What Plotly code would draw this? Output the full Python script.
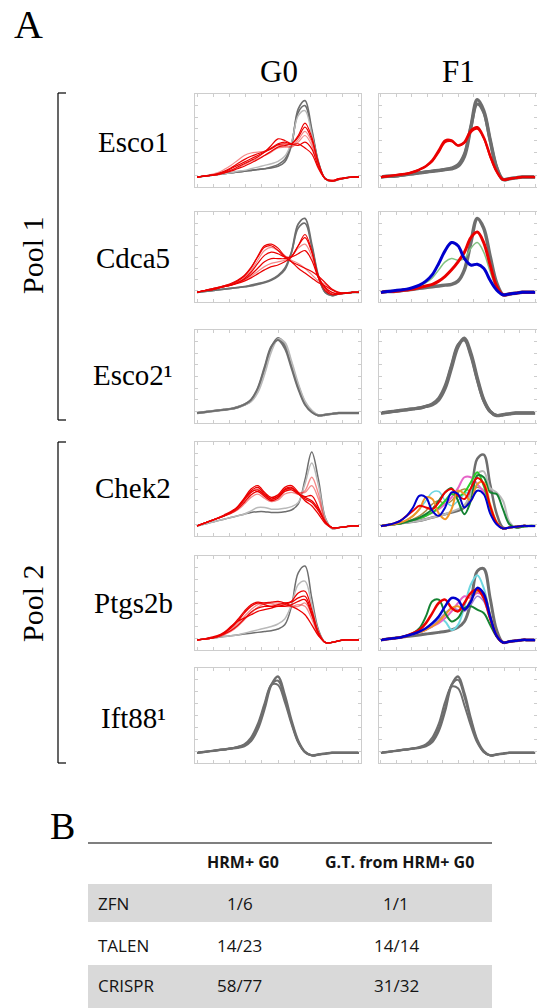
import plotly.graph_objects as go

W, H = 537, 1008
X = list(range(25))

# ---------------- labels ----------------
columns = ["G0", "F1"]
genes = ["Esco1", "Cdca5", "Esco2¹", "Chek2", "Ptgs2b", "Ift88¹"]
pools = ["Pool 1", "Pool 2"]
methods = ["ZFN", "TALEN", "CRISPR"]
hrm_pos_g0 = ["1/6", "14/23", "58/77"]
gt_from_hrm = ["1/1", "14/14", "31/32"]
table_header = ["HRM+ G0", "G.T. from HRM+ G0"]

# ---------------- melt curves (normalised -dF/dT) ----------------
esco1_g0_wt_a = [0,0.01,0.02,0.03,0.04,0.05,0.06,0.07,0.08,0.09,0.10,0.11,0.13,0.18,0.38,0.82,0.92,0.58,0.18,-0.02,-0.05,-0.03,-0.01,0,0]
esco1_g0_wt_b = [0,0.01,0.02,0.03,0.04,0.05,0.06,0.07,0.08,0.09,0.10,0.12,0.15,0.21,0.40,0.78,0.86,0.55,0.17,-0.02,-0.05,-0.03,-0.01,0,0]
esco1_g0_wt_c = [0,0.01,0.02,0.03,0.04,0.05,0.07,0.08,0.10,0.12,0.14,0.16,0.19,0.25,0.42,0.74,0.80,0.52,0.16,-0.02,-0.05,-0.03,-0.01,0,0]
esco1_g0_mut_a = [0,0.01,0.02,0.04,0.07,0.11,0.16,0.21,0.25,0.28,0.31,0.35,0.40,0.42,0.40,0.48,0.60,0.45,0.16,-0.02,-0.05,-0.03,-0.01,0,0]
esco1_g0_mut_b = [0,0.01,0.03,0.05,0.09,0.14,0.20,0.26,0.29,0.30,0.31,0.34,0.38,0.37,0.36,0.42,0.50,0.38,0.13,-0.02,-0.05,-0.03,-0.01,0,0]
esco1_g0_mut_c = [0,0.01,0.02,0.03,0.05,0.08,0.12,0.16,0.20,0.24,0.30,0.38,0.46,0.44,0.40,0.38,0.42,0.34,0.12,-0.02,-0.04,-0.02,-0.01,0,0]
esco1_g0_mut_d = [0,0.01,0.02,0.03,0.05,0.08,0.11,0.15,0.19,0.22,0.26,0.30,0.35,0.36,0.37,0.45,0.55,0.42,0.15,-0.02,-0.05,-0.03,-0.01,0,0]
esco1_g0_mut_e = [0,0.01,0.02,0.04,0.06,0.10,0.14,0.18,0.22,0.26,0.30,0.34,0.39,0.40,0.39,0.40,0.35,0.28,0.10,-0.02,-0.04,-0.02,-0.01,0,0]
esco1_g0_mut_f = [0,0.01,0.02,0.03,0.05,0.07,0.10,0.13,0.17,0.21,0.26,0.31,0.36,0.38,0.40,0.50,0.65,0.48,0.17,-0.02,-0.05,-0.03,-0.01,0,0]

esco1_f1_wt_a = [0,0.01,0.01,0.02,0.03,0.04,0.05,0.06,0.07,0.08,0.09,0.10,0.13,0.25,0.60,0.93,0.80,0.45,0.12,-0.03,-0.02,-0.01,0,0,0]
esco1_f1_wt_b = [0,0.01,0.01,0.02,0.03,0.04,0.05,0.06,0.07,0.08,0.09,0.11,0.15,0.28,0.60,0.88,0.78,0.44,0.12,-0.03,-0.02,-0.01,0,0,0]
esco1_f1_het_a = [0,0.01,0.02,0.03,0.04,0.06,0.09,0.13,0.20,0.32,0.44,0.44,0.38,0.42,0.56,0.60,0.48,0.26,0.07,-0.03,-0.02,-0.01,0,0,0]
esco1_f1_het_b = [0,0.01,0.02,0.03,0.04,0.06,0.09,0.13,0.19,0.30,0.42,0.43,0.38,0.41,0.54,0.58,0.47,0.25,0.07,-0.03,-0.02,-0.01,0,0,0]

cdca5_g0_wt_a = [0,0.01,0.02,0.03,0.04,0.05,0.06,0.07,0.08,0.10,0.12,0.15,0.20,0.28,0.50,0.85,0.92,0.60,0.20,0.0,-0.04,-0.02,-0.01,0,0]
cdca5_g0_wt_b = [0,0.01,0.02,0.03,0.04,0.05,0.06,0.07,0.09,0.11,0.13,0.16,0.21,0.30,0.50,0.80,0.86,0.57,0.19,0.0,-0.04,-0.02,-0.01,0,0]
cdca5_g0_mut_a = [0,0.02,0.04,0.06,0.08,0.10,0.14,0.20,0.30,0.45,0.58,0.60,0.55,0.45,0.38,0.30,0.24,0.18,0.12,0.08,0.03,-0.01,-0.01,0,0]
cdca5_g0_mut_b = [0,0.02,0.04,0.06,0.08,0.10,0.13,0.18,0.27,0.40,0.52,0.56,0.52,0.46,0.40,0.36,0.30,0.22,0.14,0.10,0.04,0,-0.01,0,0]
cdca5_g0_mut_c = [0,0.02,0.03,0.05,0.07,0.09,0.12,0.16,0.22,0.30,0.38,0.42,0.42,0.42,0.45,0.58,0.68,0.50,0.20,0.05,-0.02,-0.02,-0.01,0,0]
cdca5_g0_mut_d = [0,0.02,0.03,0.05,0.07,0.09,0.12,0.15,0.20,0.26,0.32,0.36,0.38,0.40,0.45,0.55,0.60,0.45,0.18,0.04,-0.02,-0.02,-0.01,0,0]
cdca5_g0_mut_e = [0,0.02,0.03,0.05,0.07,0.09,0.12,0.17,0.25,0.36,0.46,0.50,0.48,0.44,0.44,0.48,0.52,0.40,0.18,0.06,0,-0.02,-0.01,0,0]
cdca5_g0_mut_f = [0,0.02,0.03,0.05,0.07,0.09,0.11,0.14,0.18,0.23,0.28,0.32,0.34,0.38,0.44,0.58,0.72,0.52,0.18,0.02,-0.03,-0.02,-0.01,0,0]
cdca5_g0_mut_g = [0,0.02,0.04,0.06,0.08,0.11,0.15,0.21,0.31,0.44,0.56,0.58,0.52,0.44,0.38,0.34,0.30,0.26,0.20,0.12,0.04,0,-0.01,0,0]

cdca5_f1_wt = [0,0.01,0.01,0.02,0.03,0.04,0.05,0.06,0.07,0.08,0.09,0.10,0.14,0.28,0.62,0.92,0.80,0.45,0.12,-0.03,-0.02,-0.01,0,0,0]
cdca5_f1_red = [0,0.01,0.01,0.02,0.03,0.04,0.06,0.08,0.10,0.14,0.20,0.28,0.38,0.50,0.68,0.75,0.62,0.34,0.08,-0.03,-0.02,-0.01,0,0,0]
cdca5_f1_blue = [0,0.01,0.02,0.03,0.04,0.06,0.09,0.14,0.22,0.36,0.52,0.62,0.58,0.42,0.34,0.35,0.30,0.15,0.03,-0.03,-0.02,-0.01,0,0,0]
cdca5_f1_green = [0,0.01,0.02,0.03,0.04,0.06,0.08,0.12,0.18,0.28,0.38,0.42,0.40,0.42,0.55,0.62,0.50,0.26,0.06,-0.03,-0.02,-0.01,0,0,0]

esco2_g0_a = [0,0.01,0.02,0.03,0.04,0.05,0.07,0.10,0.15,0.28,0.52,0.78,0.90,0.82,0.58,0.32,0.12,0.02,-0.03,-0.02,-0.01,0,0,0,0]
esco2_g0_b = [0,0.01,0.02,0.03,0.04,0.05,0.07,0.10,0.14,0.25,0.47,0.74,0.89,0.85,0.62,0.35,0.14,0.03,-0.03,-0.02,-0.01,0,0,0,0]
esco2_g0_c = [0,0.01,0.02,0.03,0.04,0.05,0.07,0.10,0.16,0.30,0.55,0.80,0.88,0.78,0.54,0.29,0.10,0.01,-0.03,-0.02,-0.01,0,0,0,0]
esco2_f1_a = [0,0.01,0.02,0.03,0.04,0.05,0.06,0.08,0.10,0.16,0.30,0.55,0.80,0.90,0.72,0.42,0.16,0.02,-0.03,-0.02,-0.01,0,0,0,0]
esco2_f1_b = [0,0.01,0.02,0.03,0.04,0.05,0.06,0.08,0.11,0.18,0.33,0.58,0.82,0.88,0.69,0.40,0.15,0.02,-0.03,-0.02,-0.01,0,0,0,0]

chek2_g0_wt_a = [0,0.02,0.04,0.06,0.08,0.10,0.12,0.14,0.16,0.17,0.17,0.16,0.16,0.17,0.19,0.26,0.55,0.88,0.55,0.10,-0.03,-0.02,-0.01,0,0]
chek2_g0_wt_b = [0,0.02,0.04,0.06,0.08,0.10,0.12,0.14,0.18,0.22,0.22,0.20,0.20,0.21,0.23,0.28,0.50,0.75,0.48,0.09,-0.03,-0.02,-0.01,0,0]
chek2_g0_mut_a = [0,0.03,0.06,0.09,0.12,0.16,0.22,0.32,0.42,0.46,0.38,0.32,0.35,0.44,0.46,0.38,0.32,0.28,0.18,0.05,-0.02,-0.02,-0.01,0,0]
chek2_g0_mut_b = [0,0.03,0.06,0.09,0.12,0.16,0.21,0.30,0.40,0.44,0.36,0.31,0.34,0.42,0.44,0.40,0.40,0.48,0.32,0.06,-0.02,-0.02,-0.01,0,0]
chek2_g0_mut_c = [0,0.03,0.06,0.09,0.13,0.17,0.23,0.33,0.44,0.48,0.40,0.34,0.37,0.46,0.48,0.40,0.30,0.24,0.14,0.03,-0.02,-0.02,-0.01,0,0]
chek2_g0_mut_d = [0,0.03,0.06,0.09,0.12,0.15,0.20,0.28,0.37,0.41,0.35,0.30,0.33,0.41,0.43,0.38,0.35,0.36,0.22,0.05,-0.02,-0.02,-0.01,0,0]
chek2_g0_mut_e = [0,0.03,0.06,0.09,0.12,0.15,0.19,0.26,0.34,0.38,0.33,0.29,0.31,0.38,0.40,0.38,0.42,0.58,0.38,0.07,-0.03,-0.02,-0.01,0,0]
chek2_g0_mut_f = [0,0.03,0.06,0.09,0.12,0.16,0.22,0.31,0.40,0.43,0.37,0.32,0.35,0.43,0.45,0.39,0.34,0.30,0.20,0.05,-0.02,-0.02,-0.01,0,0]

chek2_f1_grey_a = [0,0.01,0.02,0.03,0.04,0.05,0.06,0.08,0.10,0.12,0.14,0.16,0.18,0.22,0.40,0.80,0.85,0.50,0.15,-0.02,-0.02,-0.01,0,0,0]
chek2_f1_grey_b = [0,0.01,0.02,0.03,0.04,0.05,0.06,0.08,0.10,0.12,0.14,0.17,0.20,0.25,0.38,0.62,0.65,0.45,0.40,0.30,0.05,-0.02,-0.01,0,0]
chek2_f1_blue = [0,0.01,0.03,0.06,0.12,0.22,0.36,0.34,0.18,0.12,0.22,0.40,0.38,0.22,0.30,0.42,0.38,0.15,0.02,-0.03,-0.02,-0.01,0,0,0]
chek2_f1_orange = [0,0.01,0.02,0.04,0.07,0.12,0.20,0.34,0.32,0.15,0.08,0.20,0.42,0.38,0.30,0.50,0.52,0.26,0.05,-0.03,-0.02,-0.01,0,0,0]
chek2_f1_red = [0,0.01,0.03,0.06,0.12,0.18,0.24,0.22,0.20,0.28,0.40,0.44,0.36,0.32,0.45,0.57,0.50,0.24,0.04,-0.03,-0.02,-0.01,0,0,0]
chek2_f1_green = [0,0.01,0.02,0.03,0.05,0.07,0.10,0.14,0.20,0.30,0.40,0.45,0.30,0.14,0.30,0.60,0.58,0.40,0.38,0.20,0.02,-0.02,-0.01,0,0]
chek2_f1_lime = [0,0.01,0.02,0.03,0.05,0.07,0.09,0.12,0.16,0.22,0.30,0.38,0.35,0.40,0.52,0.64,0.48,0.22,0.04,-0.03,-0.02,-0.01,0,0,0]
chek2_f1_pink = [0,0.01,0.02,0.03,0.05,0.07,0.09,0.12,0.16,0.20,0.26,0.34,0.45,0.58,0.58,0.50,0.40,0.20,0.04,-0.03,-0.02,-0.01,0,0,0]
chek2_f1_cyan = [0,0.01,0.02,0.04,0.07,0.12,0.20,0.30,0.40,0.41,0.30,0.24,0.30,0.38,0.42,0.48,0.40,0.20,0.04,-0.03,-0.02,-0.01,0,0,0]
chek2_f1_olive = [0,0.01,0.02,0.03,0.05,0.08,0.12,0.18,0.26,0.30,0.26,0.30,0.40,0.44,0.42,0.46,0.42,0.22,0.04,-0.03,-0.02,-0.01,0,0,0]

ptgs2b_g0_wt_a = [0,0.01,0.02,0.03,0.04,0.05,0.06,0.07,0.08,0.09,0.10,0.11,0.13,0.18,0.40,0.80,0.88,0.50,0.12,-0.03,-0.03,-0.01,0,0,0]
ptgs2b_g0_wt_b = [0,0.01,0.02,0.03,0.04,0.05,0.06,0.08,0.10,0.12,0.14,0.16,0.19,0.25,0.42,0.66,0.70,0.42,0.10,-0.03,-0.03,-0.01,0,0,0]
ptgs2b_g0_mut_a = [0,0.01,0.02,0.04,0.08,0.14,0.22,0.32,0.40,0.44,0.42,0.40,0.42,0.44,0.45,0.50,0.52,0.32,0.08,-0.03,-0.03,-0.01,0,0,0]
ptgs2b_g0_mut_b = [0,0.01,0.02,0.04,0.07,0.12,0.19,0.28,0.36,0.42,0.44,0.43,0.41,0.40,0.40,0.42,0.40,0.25,0.06,-0.03,-0.03,-0.01,0,0,0]
ptgs2b_g0_mut_c = [0,0.01,0.03,0.05,0.09,0.15,0.24,0.34,0.42,0.45,0.44,0.45,0.46,0.44,0.40,0.36,0.30,0.18,0.05,-0.03,-0.03,-0.01,0,0,0]
ptgs2b_g0_mut_d = [0,0.01,0.02,0.04,0.07,0.11,0.17,0.25,0.33,0.38,0.40,0.40,0.40,0.42,0.46,0.56,0.58,0.36,0.09,-0.03,-0.03,-0.01,0,0,0]
ptgs2b_g0_mut_e = [0,0.01,0.02,0.03,0.06,0.10,0.16,0.24,0.32,0.39,0.43,0.44,0.44,0.42,0.40,0.40,0.44,0.30,0.08,-0.03,-0.03,-0.01,0,0,0]
ptgs2b_g0_mut_f = [0,0.01,0.02,0.04,0.08,0.16,0.22,0.26,0.30,0.34,0.36,0.38,0.40,0.40,0.42,0.46,0.48,0.30,0.07,-0.03,-0.03,-0.01,0,0,0]

ptgs2b_f1_grey = [0,0.01,0.02,0.03,0.04,0.05,0.06,0.07,0.08,0.09,0.10,0.12,0.15,0.22,0.45,0.82,0.85,0.50,0.12,-0.03,-0.02,-0.01,0,0,0]
ptgs2b_f1_green = [0,0.01,0.02,0.03,0.05,0.08,0.14,0.28,0.46,0.48,0.32,0.22,0.26,0.38,0.40,0.36,0.32,0.18,0.04,-0.03,-0.02,-0.01,0,0,0]
ptgs2b_f1_red = [0,0.01,0.02,0.03,0.05,0.08,0.12,0.20,0.32,0.44,0.48,0.38,0.34,0.44,0.56,0.60,0.50,0.26,0.05,-0.03,-0.02,-0.01,0,0,0]
ptgs2b_f1_blue = [0,0.01,0.02,0.03,0.05,0.07,0.10,0.14,0.20,0.28,0.40,0.50,0.48,0.36,0.46,0.62,0.55,0.28,0.05,-0.03,-0.02,-0.01,0,0,0]
ptgs2b_f1_pink = [0,0.01,0.02,0.03,0.05,0.07,0.09,0.12,0.16,0.20,0.26,0.34,0.44,0.52,0.50,0.56,0.52,0.28,0.05,-0.03,-0.02,-0.01,0,0,0]
ptgs2b_f1_cyan = [0,0.01,0.02,0.03,0.05,0.07,0.09,0.12,0.18,0.26,0.22,0.12,0.18,0.40,0.66,0.77,0.62,0.30,0.05,-0.03,-0.02,-0.01,0,0,0]
ptgs2b_f1_orange = [0,0.01,0.02,0.03,0.05,0.07,0.09,0.12,0.16,0.22,0.30,0.38,0.40,0.36,0.48,0.58,0.56,0.30,0.06,-0.03,-0.02,-0.01,0,0,0]
ptgs2b_f1_purple = [0,0.01,0.02,0.03,0.05,0.07,0.09,0.12,0.17,0.24,0.32,0.38,0.36,0.34,0.42,0.52,0.46,0.24,0.05,-0.03,-0.02,-0.01,0,0,0]

ift88_g0_a = [0,0.01,0.02,0.03,0.04,0.05,0.06,0.08,0.14,0.28,0.52,0.80,0.90,0.68,0.38,0.14,0.01,-0.03,-0.02,-0.01,0,0,0,0,0]
ift88_g0_b = [0,0.01,0.02,0.03,0.04,0.05,0.07,0.10,0.18,0.34,0.58,0.80,0.80,0.60,0.34,0.12,0.01,-0.03,-0.02,-0.01,0,0,0,0,0]
ift88_g0_c = [0,0.01,0.02,0.03,0.04,0.05,0.07,0.09,0.16,0.31,0.55,0.80,0.85,0.64,0.36,0.13,0.01,-0.03,-0.02,-0.01,0,0,0,0,0]
ift88_f1_a = [0,0.01,0.02,0.03,0.04,0.05,0.06,0.08,0.13,0.26,0.50,0.80,0.90,0.70,0.40,0.15,0.02,-0.03,-0.02,-0.01,0,0,0,0,0]
ift88_f1_b = [0,0.01,0.02,0.03,0.04,0.05,0.07,0.10,0.18,0.34,0.60,0.78,0.76,0.56,0.32,0.12,0.01,-0.03,-0.02,-0.01,0,0,0,0,0]
ift88_f1_c = [0,0.01,0.02,0.03,0.04,0.05,0.06,0.09,0.15,0.29,0.53,0.80,0.86,0.66,0.38,0.14,0.01,-0.03,-0.02,-0.01,0,0,0,0,0]

# ---------------- colours ----------------
GREY = "rgb(110,110,110)"
LGREY = "rgb(185,185,185)"
RED = "rgb(235,0,0)"
LRED = "rgba(235,40,40,0.55)"
BLUE = "rgb(0,0,205)"
GREEN = "rgb(20,130,50)"
LGREEN = "rgb(130,195,130)"
LIME = "rgb(40,205,40)"
PINK = "rgb(230,100,200)"
CYAN = "rgb(110,215,225)"
ORANGE = "rgb(240,150,40)"
OLIVE = "rgb(170,140,70)"
PURPLE = "rgb(160,130,210)"

panels = [
    # row 1
    [(esco1_g0_wt_a, GREY, 1.6), (esco1_g0_wt_b, GREY, 1.6), (esco1_g0_wt_c, LGREY, 1.4),
     (esco1_g0_mut_a, RED, 1.2), (esco1_g0_mut_b, LRED, 1.2), (esco1_g0_mut_c, RED, 1.2),
     (esco1_g0_mut_d, LRED, 1.2), (esco1_g0_mut_e, RED, 1.2), (esco1_g0_mut_f, RED, 1.2)],
    [(esco1_f1_wt_a, GREY, 3.5), (esco1_f1_wt_b, GREY, 3.0),
     (esco1_f1_het_a, RED, 2.5), (esco1_f1_het_b, RED, 2.0)],
    # row 2
    [(cdca5_g0_wt_a, GREY, 1.8), (cdca5_g0_wt_b, GREY, 1.6),
     (cdca5_g0_mut_a, RED, 1.2), (cdca5_g0_mut_b, LRED, 1.2), (cdca5_g0_mut_c, RED, 1.2),
     (cdca5_g0_mut_d, LRED, 1.2), (cdca5_g0_mut_e, RED, 1.2), (cdca5_g0_mut_f, RED, 1.2),
     (cdca5_g0_mut_g, RED, 1.2)],
    [(cdca5_f1_wt, GREY, 3.5), (cdca5_f1_green, LGREEN, 1.5), (cdca5_f1_red, RED, 3.0),
     (cdca5_f1_blue, BLUE, 3.0)],
    # row 3
    [(esco2_g0_a, GREY, 2.5), (esco2_g0_b, LGREY, 2.0), (esco2_g0_c, GREY, 2.0)],
    [(esco2_f1_a, GREY, 3.5), (esco2_f1_b, GREY, 3.0)],
    # row 4
    [(chek2_g0_wt_a, GREY, 1.5), (chek2_g0_wt_b, LGREY, 1.5),
     (chek2_g0_mut_a, RED, 1.3), (chek2_g0_mut_b, LRED, 1.3), (chek2_g0_mut_c, RED, 1.3),
     (chek2_g0_mut_d, RED, 1.3), (chek2_g0_mut_e, LRED, 1.3), (chek2_g0_mut_f, RED, 1.3)],
    [(chek2_f1_grey_a, GREY, 2.5), (chek2_f1_grey_b, LGREY, 2.0), (chek2_f1_olive, OLIVE, 1.5),
     (chek2_f1_cyan, CYAN, 1.5), (chek2_f1_pink, PINK, 2.0), (chek2_f1_lime, LIME, 2.0),
     (chek2_f1_green, GREEN, 2.0), (chek2_f1_orange, ORANGE, 2.0), (chek2_f1_red, RED, 2.0),
     (chek2_f1_blue, BLUE, 2.0)],
    # row 5
    [(ptgs2b_g0_wt_a, GREY, 1.5), (ptgs2b_g0_wt_b, LGREY, 1.5),
     (ptgs2b_g0_mut_a, RED, 1.3), (ptgs2b_g0_mut_b, LRED, 1.3), (ptgs2b_g0_mut_c, RED, 1.3),
     (ptgs2b_g0_mut_d, RED, 1.3), (ptgs2b_g0_mut_e, LRED, 1.3), (ptgs2b_g0_mut_f, RED, 1.3)],
    [(ptgs2b_f1_grey, GREY, 3.0), (ptgs2b_f1_cyan, CYAN, 2.0), (ptgs2b_f1_purple, PURPLE, 1.5),
     (ptgs2b_f1_pink, PINK, 2.0), (ptgs2b_f1_orange, ORANGE, 2.0), (ptgs2b_f1_green, GREEN, 2.0),
     (ptgs2b_f1_red, RED, 2.5), (ptgs2b_f1_blue, BLUE, 2.5)],
    # row 6
    [(ift88_g0_a, GREY, 2.5), (ift88_g0_b, GREY, 2.0), (ift88_g0_c, GREY, 2.0)],
    [(ift88_f1_a, GREY, 2.5), (ift88_f1_b, GREY, 2.0), (ift88_f1_c, GREY, 2.0)],
]

# ---------------- layout geometry (pixels) ----------------
col_px = [(195, 361), (379, 537)]
row_px = [(94, 187), (212, 302), (330, 423), (442, 536), (556, 650), (668, 763)]


def fx(x):
    return x / W


def fy(y):
    return 1 - y / H


fig = go.Figure()
layout = dict(width=W, height=H, margin=dict(l=0, r=0, t=0, b=0),
              paper_bgcolor="white", plot_bgcolor="white", showlegend=False)

k = 0
for r in range(6):
    for c in range(2):
        k += 1
        xa = "x" if k == 1 else f"x{k}"
        ya = "y" if k == 1 else f"y{k}"
        for vals, col, wd in panels[k - 1]:
            fig.add_trace(go.Scatter(x=X, y=vals, mode="lines", xaxis=xa, yaxis=ya,
                                     line=dict(color=col, width=wd, shape="spline", smoothing=1.0),
                                     hoverinfo="skip"))
        ax_common = dict(showgrid=False, zeroline=False, showticklabels=False,
                         showline=True, linecolor="rgb(205,205,205)", linewidth=1,
                         mirror="ticks", ticks="inside", ticklen=3,
                         tickcolor="rgb(205,205,205)", fixedrange=True)
        x0, x1 = col_px[c]
        t, b = row_px[r]
        layout["xaxis" if k == 1 else f"xaxis{k}"] = dict(
            domain=[fx(x0), fx(x1)], range=[-0.3, 24.3], dtick=2.4, tick0=0,
            anchor=ya, **ax_common)
        layout["yaxis" if k == 1 else f"yaxis{k}"] = dict(
            domain=[fy(b), fy(t)], range=[-0.12, 1.0], dtick=0.14, tick0=-0.12,
            anchor=xa, **ax_common)

fig.update_layout(**layout)

SERIF = "Liberation Serif, Times New Roman, serif"
SANS = "Open Sans, Liberation Sans, sans-serif"
ann = []


def text(x, y, s, size, font=SERIF, angle=0, xanchor="center", bold=False, color="black"):
    ann.append(dict(x=fx(x), y=fy(y), xref="paper", yref="paper", text=(f"<b>{s}</b>" if bold else s),
                    showarrow=False, xanchor=xanchor, yanchor="middle", textangle=angle,
                    font=dict(family=font, size=size, color=color)))


text(28, 24, "A", 40)
text(279, 72, columns[0], 31)
text(458, 72, columns[1], 31)
gene_y = [142, 258, 375, 488, 603, 718]
for g, yy in zip(genes, gene_y):
    text(133, yy, g, 29)
text(32, 255, pools[0], 30, angle=-90)
text(32, 603, pools[1], 30, angle=-90)

# Table B
text(62, 826, "B", 38)
text(243, 862, table_header[0], 16, font=SANS, bold=True, color="rgb(20,20,20)")
text(399, 862, table_header[1], 16, font=SANS, bold=True, color="rgb(20,20,20)")
row_y = [903, 945, 985]
for m, a, g, yy in zip(methods, hrm_pos_g0, gt_from_hrm, row_y):
    text(96, yy, m, 17, font=SANS, xanchor="left", color="rgb(20,20,20)")
    text(240, yy, a, 17, font=SANS, color="rgb(20,20,20)")
    text(396, yy, g, 17, font=SANS, color="rgb(20,20,20)")

shapes = []
# brackets
for top, bot in [(93, 420), (442, 763)]:
    shapes.append(dict(type="line", xref="paper", yref="paper", x0=fx(58), x1=fx(58), y0=fy(top), y1=fy(bot),
                       line=dict(color="black", width=1.2)))
    shapes.append(dict(type="line", xref="paper", yref="paper", x0=fx(58), x1=fx(66), y0=fy(top), y1=fy(top),
                       line=dict(color="black", width=1.2)))
    shapes.append(dict(type="line", xref="paper", yref="paper", x0=fx(58), x1=fx(66), y0=fy(bot), y1=fy(bot),
                       line=dict(color="black", width=1.2)))
# table rule and shaded rows
shapes.append(dict(type="line", xref="paper", yref="paper", x0=fx(88), x1=fx(492), y0=fy(843), y1=fy(843),
                   line=dict(color="black", width=1.2)))
for top, bot in [(884, 922), (965, 1008)]:
    shapes.append(dict(type="rect", xref="paper", yref="paper", x0=fx(88), x1=fx(492), y0=fy(bot), y1=fy(top),
                       fillcolor="rgb(217,217,217)", line=dict(width=0), layer="below"))

fig.update_layout(annotations=ann, shapes=shapes)
fig.write_html("out.html", config={"displayModeBar": False},
               post_script="document.body.style.margin='0px';document.body.style.overflow='hidden';")
